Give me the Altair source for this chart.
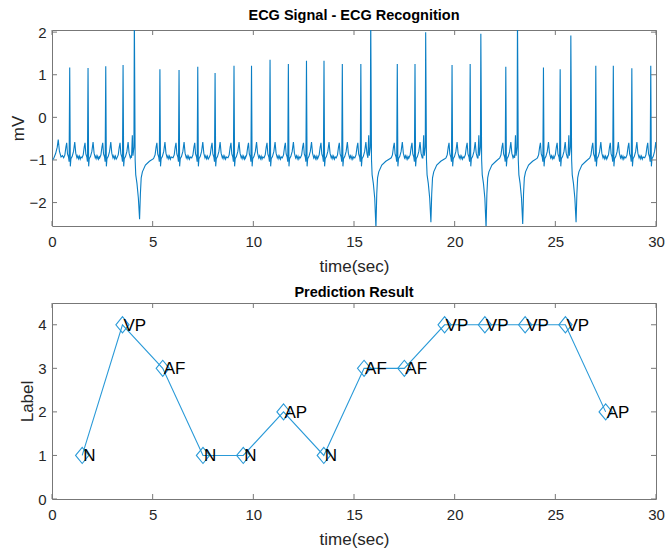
import altair as alt
import pandas as pd

# ---------------- ECG signal ----------------
normal_r_time = [0.88, 1.79, 2.67, 3.53, 5.36, 6.31, 7.24, 8.10, 9.04, 9.91,
                 10.83, 11.74, 12.64, 13.51, 14.42, 15.34, 17.15, 18.03, 19.87,
                 20.77, 22.54, 24.41, 25.24, 27.01, 27.88, 28.80, 29.74]
normal_r_amp = [1.17, 1.16, 1.20, 1.23, 1.13, 1.11, 1.19, 1.04, 1.21, 1.21,
                1.35, 1.25, 1.33, 1.33, 1.25, 1.25, 1.25, 1.25, 1.23,
                1.25, 1.19, 1.17, 1.13, 1.21, 1.21, 1.15, 1.21]
pvc_time = [4.09, 15.83, 18.56, 21.30, 23.12, 25.77]
pvc_peak = [2.40, 2.40, 2.00, 1.96, 2.40, 1.92]
pvc_trough = [-2.39, -2.60, -2.46, -2.60, -2.50, -2.46]

lead_in_time = [0.00, 0.08, 0.18, 0.26, 0.31, 0.37, 0.45, 0.52]
lead_in_mv = [-1.00, -0.97, -0.85, -0.70, -0.52, -0.80, -0.93, -0.90]

# normal beat outline relative to its R peak ("R" = R amplitude)
normal_offset = [-0.30, -0.24, -0.19, -0.15, -0.11, -0.06, -0.03, 0.00, 0.03, 0.06,
                 0.12, 0.19, 0.25, 0.30, 0.36, 0.40, 0.44, 0.48, 0.52, 0.56]
normal_shape = [-0.95, -0.88, -0.70, -0.60, -0.86, -0.93, -1.04, "R", -1.15, -0.97,
                -0.92, -0.80, -0.58, -0.84, -0.95, -0.90, -0.97, -0.91, -0.98, -0.93]

# ventricular beat outline relative to its peak ("PK" peak, "TR" trough)
pvc_offset = [-0.14, -0.10, -0.07, -0.02, 0.00, 0.04, 0.07, 0.13, 0.20, 0.26,
              0.30, 0.34, 0.40, 0.55, 0.75, 0.95]
pvc_shape = [-0.95, -0.42, -0.90, -0.70, "PK", -1.00, -1.35, -1.55, -1.90, "TR",
             -1.80, -1.42, -1.28, -1.12, -1.03, -0.97]

# ---------------- prediction result ----------------
pred_time = [1.5, 3.5, 5.5, 7.5, 9.5, 11.5, 13.5, 15.5, 17.5, 19.5, 21.5, 23.5, 25.5, 27.5]
pred_label = [1, 4, 3, 1, 1, 2, 1, 3, 3, 4, 4, 4, 4, 2]
pred_class = ["N", "VP", "AF", "N", "N", "AP", "N", "AF", "AF", "VP", "VP", "VP", "VP", "AP"]

x_ticks = [0, 5, 10, 15, 20, 25, 30]
y_ticks_top = [-2, -1, 0, 1, 2]
y_ticks_bottom = [0, 1, 2, 3, 4]

# ---------------- build ECG vertices ----------------
beats = []
for t, a in zip(normal_r_time, normal_r_amp):
    beats.append((t, "N", a, None))
for t, p, tr in zip(pvc_time, pvc_peak, pvc_trough):
    beats.append((t, "V", p, tr))
beats.sort(key=lambda b: b[0])

def outline(beat):
    t, kind, a, tr = beat
    if kind == "N":
        return [(t + o, a if v == "R" else v) for o, v in zip(normal_offset, normal_shape)]
    pts = []
    for o, v in zip(pvc_offset, pvc_shape):
        if v == "PK":
            v = a
        elif v == "TR":
            v = tr
        pts.append((t + o, v))
    return pts

ts = list(lead_in_time)
vs = list(lead_in_mv)
outlines = [outline(b) for b in beats]
for i, pts in enumerate(outlines):
    nxt = outlines[i + 1][0][0] if i + 1 < len(outlines) else 1e9
    for t, v in pts:
        if t < nxt:
            ts.append(t)
            vs.append(v)
ecg_df = pd.DataFrame({"t": ts, "v": vs})
pred_df = pd.DataFrame({"t": pred_time, "label": pred_label, "cls": pred_class})
xt_df = pd.DataFrame({"t": x_ticks})
ytt_df = pd.DataFrame({"v": y_ticks_top})
ytb_df = pd.DataFrame({"label": y_ticks_bottom})

W, H1, H2 = 604, 196, 196
FONT = "Liberation Sans"
FRAME = "#777777"
LABEL_COL = "#262626"

xscale = alt.Scale(domain=[0, 30], nice=False, zero=False)
y1scale = alt.Scale(domain=[-2.55, 2.05], nice=False, zero=False)
y2scale = alt.Scale(domain=[0, 4.5], nice=False, zero=False)

def xaxis():
    return alt.Axis(values=x_ticks, title="time(sec)", ticks=False, domain=False, grid=False,
                    labelPadding=8, titlePadding=9, labelFontSize=15, titleFontSize=17,
                    labelFont=FONT, titleFont=FONT, labelColor=LABEL_COL, titleColor=LABEL_COL,
                    titleFontWeight="normal", labelFlush=False)

def yaxis(vals, title):
    return alt.Axis(values=vals, title=title, ticks=False, domain=False, grid=False,
                    labelPadding=6, titlePadding=1, labelFontSize=15, titleFontSize=17,
                    labelFont=FONT, titleFont=FONT, labelColor=LABEL_COL, titleColor=LABEL_COL,
                    titleFontWeight="normal", labelFlush=False)

def tick_layers(yfield, ydf, yscale, h, yvals, ytitle):
    X = lambda: alt.X("t:Q", scale=xscale, axis=xaxis())
    Y = lambda: alt.Y(f"{yfield}:Q", scale=yscale, axis=yaxis(yvals, ytitle))
    xb = alt.Chart(xt_df).mark_rule(color=FRAME).encode(
        x=X(), y=alt.value(h), y2=alt.value(h - 5))
    xt = alt.Chart(xt_df).mark_rule(color=FRAME).encode(
        x=X(), y=alt.value(0), y2=alt.value(5))
    yl = alt.Chart(ydf).mark_rule(color=FRAME).encode(
        y=Y(), x=alt.value(0), x2=alt.value(5))
    yr = alt.Chart(ydf).mark_rule(color=FRAME).encode(
        y=Y(), x=alt.value(W), x2=alt.value(W - 5))
    return [xb, xt, yl, yr]

title_style = dict(fontSize=14.5, font=FONT, fontWeight="bold", color="#000000",
                   offset=2, frame="group")

ecg_line = alt.Chart(ecg_df).mark_line(color="#0a7ec4", strokeWidth=1.1, clip=True).encode(
    x=alt.X("t:Q", scale=xscale, axis=xaxis()),
    y=alt.Y("v:Q", scale=y1scale, axis=yaxis(y_ticks_top, "mV")),
    order="t:Q",
)
top = alt.layer(ecg_line, *tick_layers("v", ytt_df, y1scale, H1, y_ticks_top, "mV")).properties(
    width=W, height=H1,
    title=alt.TitleParams("ECG Signal - ECG Recognition", **title_style),
)

diamond = "M-0.82,0L0,-1L0.82,0L0,1Z"
PX = lambda: alt.X("t:Q", scale=xscale, axis=xaxis())
PY = lambda: alt.Y("label:Q", scale=y2scale, axis=yaxis(y_ticks_bottom, "Label"))
pred_line = alt.Chart(pred_df).mark_line(color="#2a9ad8", strokeWidth=1.1).encode(x=PX(), y=PY())
pred_pts = alt.Chart(pred_df).mark_point(shape=diamond, filled=False, color="#2a9ad8",
                                         size=260, strokeWidth=1.1, opacity=1).encode(x=PX(), y=PY())
pred_txt = alt.Chart(pred_df).mark_text(align="left", baseline="middle", dx=1, dy=1,
                                        fontSize=17, font=FONT, color="#000000").encode(
    x=PX(), y=PY(), text="cls:N")
bottom = alt.layer(pred_line, pred_pts, pred_txt,
                   *tick_layers("label", ytb_df, y2scale, H2, y_ticks_bottom, "Label")).properties(
    width=W, height=H2,
    title=alt.TitleParams("Prediction Result", **title_style),
)

chart = alt.vconcat(top, bottom, spacing=9).properties(
    padding={"left": 9, "top": 7, "right": 2, "bottom": 2},
    background="white",
).configure_view(stroke=FRAME, strokeWidth=1)

chart.save("out.html", embed_options={"renderer": "svg", "actions": False})
